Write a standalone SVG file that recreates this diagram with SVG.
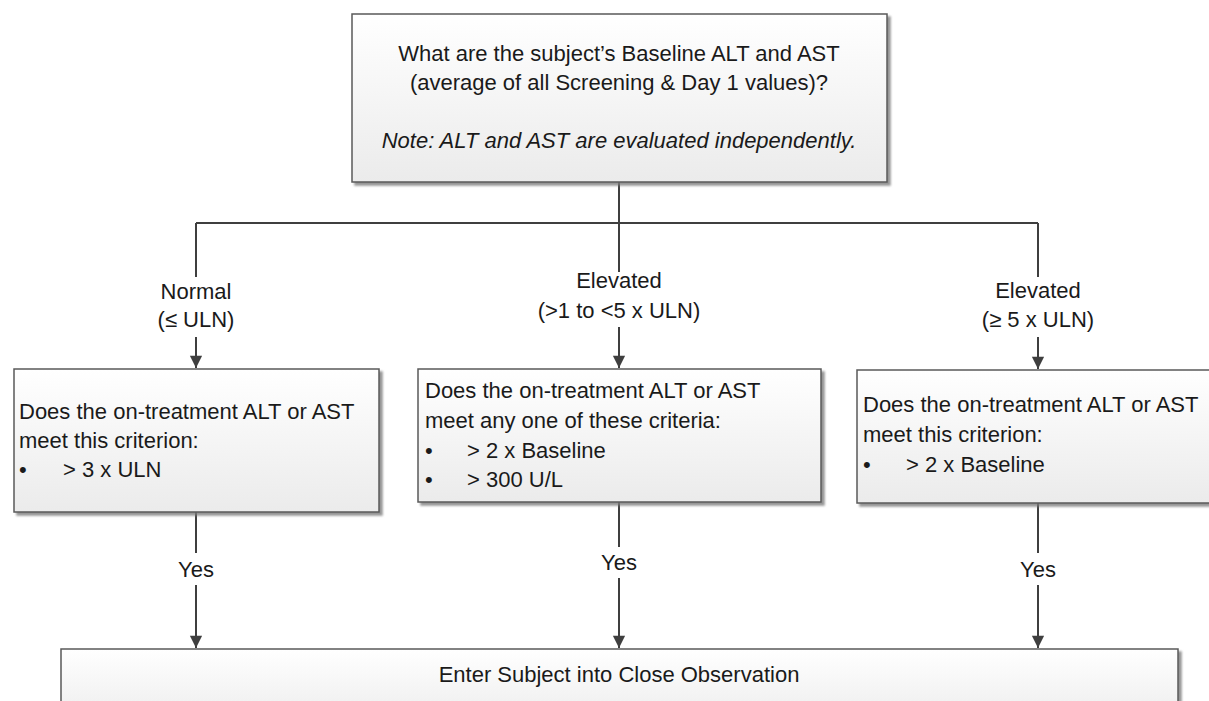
<svg xmlns="http://www.w3.org/2000/svg" width="1209" height="701" viewBox="0 0 1209 701">
<defs>
<linearGradient id="boxfill" x1="0" y1="0" x2="0" y2="1">
<stop offset="0" stop-color="#ffffff"/>
<stop offset="1" stop-color="#ebebeb"/>
</linearGradient>
<marker id="arrow" viewBox="0 0 14 16" refX="14" refY="7" markerWidth="16" markerHeight="14" markerUnits="userSpaceOnUse" orient="auto">
<path d="M0,0 L14,7 L0,14 Z" fill="#3f3f3f"/>
</marker>
<filter id="shadow" x="-5%" y="-5%" width="115%" height="120%">
<feDropShadow dx="3" dy="3" stdDeviation="1.2" flood-color="#7a7a7a" flood-opacity="0.8"/>
</filter>
</defs>
<style>
.box { fill: url(#boxfill); stroke: #5a5a5a; stroke-width: 1.5; filter: url(#shadow); }
.t { font-family: "Liberation Sans", Arial, sans-serif; font-size: 22px; fill: #1a1a1a; }
.c { text-anchor: middle; }
.i { font-style: italic; }
.ln { fill: none; stroke: #3f3f3f; stroke-width: 2; }
.ar { marker-end: url(#arrow); }
</style>
<rect width="1209" height="701" fill="#ffffff"/>

<g id="connectors">
<path class="ln" d="M619,182 L619,272"/>
<path class="ln" d="M196,223 L1038,223"/>
<path class="ln" d="M196,223 L196,277"/>
<path class="ln" d="M1038,223 L1038,277"/>
<path class="ln ar" d="M196,337 L196,368"/>
<path class="ln ar" d="M619,327 L619,368"/>
<path class="ln ar" d="M1038,337 L1038,369"/>
<path class="ln" d="M196,512 L196,553"/>
<path class="ln ar" d="M196,585 L196,648"/>
<path class="ln" d="M619,502 L619,547"/>
<path class="ln ar" d="M619,578 L619,648"/>
<path class="ln" d="M1038,502 L1038,553"/>
<path class="ln ar" d="M1038,585 L1038,648"/>
<text class="t c" x="196" y="299">Normal</text>
<text class="t c" x="196" y="327">(≤ ULN)</text>
<text class="t c" x="619" y="288">Elevated</text>
<text class="t c" x="619" y="318">(&gt;1 to &lt;5 x ULN)</text>
<text class="t c" x="1038" y="298">Elevated</text>
<text class="t c" x="1038" y="327">(≥ 5 x ULN)</text>
<text class="t c" x="196" y="577">Yes</text>
<text class="t c" x="619" y="570">Yes</text>
<text class="t c" x="1038" y="577">Yes</text>
</g>

<g id="node-baseline">
<rect class="box" x="352" y="14" width="535" height="168"/>
<text class="t c" x="619" y="61">What are the subject’s Baseline ALT and AST</text>
<text class="t c" x="619" y="90">(average of all Screening &amp; Day 1 values)?</text>
<text class="t c i" x="619" y="148">Note: ALT and AST are evaluated independently.</text>
</g>

<g id="node-normal">
<rect class="box" x="14" y="369" width="365" height="143"/>
<text class="t" x="19" y="419">Does the on-treatment ALT or AST</text>
<text class="t" x="19" y="448">meet this criterion:</text>
<text class="t" x="19" y="477">•</text>
<text class="t" x="63" y="477">&gt; 3 x ULN</text>
</g>

<g id="node-elevated-mid">
<rect class="box" x="418" y="369" width="403" height="133"/>
<text class="t" x="425" y="398">Does the on-treatment ALT or AST</text>
<text class="t" x="425" y="428">meet any one of these criteria:</text>
<text class="t" x="425" y="458">•</text>
<text class="t" x="467" y="458">&gt; 2 x Baseline</text>
<text class="t" x="425" y="487">•</text>
<text class="t" x="467" y="487">&gt; 300 U/L</text>
</g>

<g id="node-elevated-high">
<rect class="box" x="857" y="370" width="370" height="133"/>
<text class="t" x="863" y="412">Does the on-treatment ALT or AST</text>
<text class="t" x="863" y="442">meet this criterion:</text>
<text class="t" x="863" y="472">•</text>
<text class="t" x="906" y="472">&gt; 2 x Baseline</text>
</g>

<g id="node-close-observation">
<rect class="box" x="61" y="649" width="1117" height="80"/>
<text class="t c" x="619" y="682">Enter Subject into Close Observation</text>
</g>
</svg>
